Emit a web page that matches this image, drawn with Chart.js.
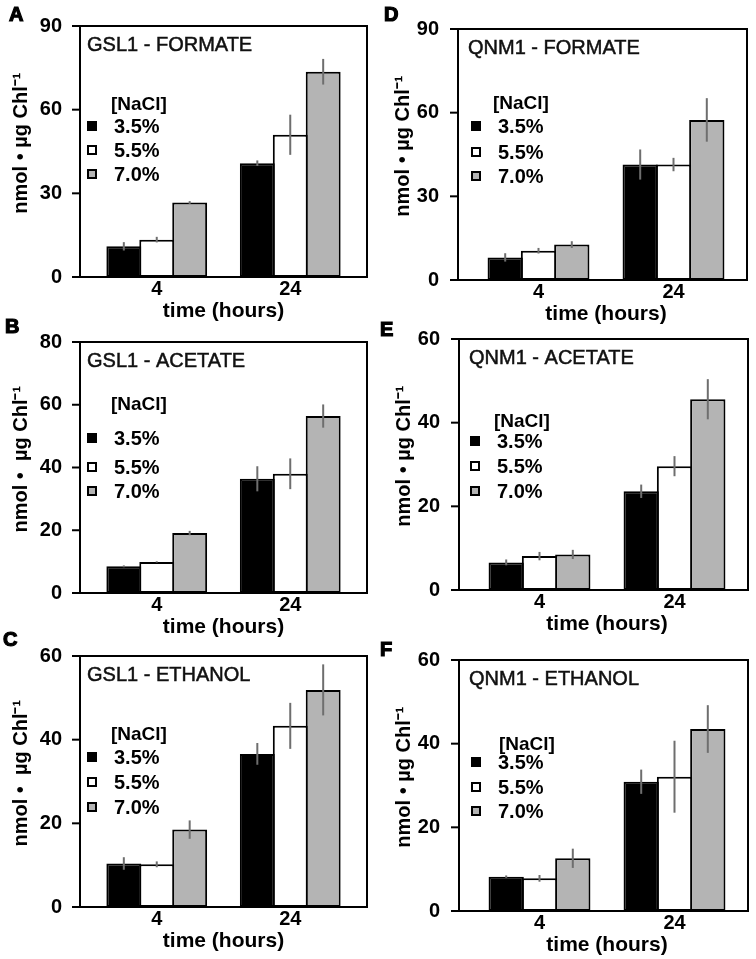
<!DOCTYPE html>
<html>
<head>
<meta charset="utf-8">
<title>Formate, acetate and ethanol production under NaCl</title>
<script src="https://cdn.jsdelivr.net/npm/chart.js@4.4.1/dist/chart.umd.min.js"></script>
<style>
  html, body { margin: 0; padding: 0; background: #fff; }
  #fig { position: relative; width: 756px; height: 959px; overflow: hidden; }
  #fig canvas { position: absolute; }
</style>
</head>
<body>
<div id="fig"></div>
<script>
const times = ['4', '24'];
const salts = ['3.5%', '5.5%', '7.0%'];
const saltColors = ['#000000', '#ffffff', '#b4b4b4'];

// one row per NaCl level, values at [4 h, 24 h]
const gslFormate    = [[11.0, 40.8], [13.4, 51.0], [26.7, 73.6]];
const gslFormateErr = [[1.5, 1.0], [1.0, 7.2], [0.5, 4.6]];
const gslAcetate    = [[8.5, 36.4], [9.9, 38.0], [19.1, 56.4]];
const gslAcetateErr = [[0.3, 4.0], [0.2, 4.9], [0.7, 3.7]];
const gslEthanol    = [[10.4, 36.6], [10.2, 43.3], [18.5, 51.9]];
const gslEthanolErr = [[1.5, 2.6], [0.7, 5.5], [2.2, 6.1]];
const qnmFormate    = [[8.1, 41.4], [10.5, 41.4], [12.7, 57.4]];
const qnmFormateErr = [[1.5, 5.4], [1.0, 2.4], [1.2, 7.8]];
const qnmAcetate    = [[6.6, 23.6], [8.1, 29.6], [8.5, 45.6]];
const qnmAcetateErr = [[0.7, 1.6], [1.0, 2.4], [1.1, 4.8]];
const qnmEthanol    = [[8.2, 30.9], [7.8, 32.1], [12.6, 43.5]];
const qnmEthanolErr = [[0.3, 2.9], [0.8, 8.6], [2.3, 5.7]];

const ticks90 = [0, 30, 60, 90];
const ticks80 = [0, 20, 40, 60, 80];
const ticks60 = [0, 20, 40, 60];

const FONT = '"Liberation Sans", Arial, Helvetica, sans-serif';
const H = 325;

// geometry of the two figure columns (canvas-local px)
const columns = [
  { width: 378, frameL: 80, frameR: 367, areaL: 90, areaR: 357, yTitlePad: 9, tickGap: 24, titleX: 7 },
  { width: 380, frameL: 82, frameR: 371, areaL: 95, areaR: 365, yTitlePad: 15, tickGap: 28, titleX: 10 }
];

const panels = [
  { letter: 'A', title: 'GSL1 - FORMATE', values: gslFormate, errors: gslFormateErr, yTicks: ticks90,
    yTitle: '   nmol • µg Chl⁻¹', col: 0, left: 0, top: 0, letterAt: [9, 21],
    legend: { boxX: 7, textX: 34, headX: 31, headY: 79, rows: [100, 124, 148] } },
  { letter: 'B', title: 'GSL1 - ACETATE', values: gslAcetate, errors: gslAcetateErr, yTicks: ticks80,
    yTitle: '   nmol •  µg Chl⁻¹', col: 0, left: 0, top: 316, letterAt: [5, 17],
    legend: { boxX: 7, textX: 34, headX: 31, headY: 63, rows: [96, 125, 149] } },
  { letter: 'C', title: 'GSL1 - ETHANOL', values: gslEthanol, errors: gslEthanolErr, yTicks: ticks60,
    yTitle: '   nmol •  µg Chl⁻¹', col: 0, left: 0, top: 630, letterAt: [3, 16],
    legend: { boxX: 7, textX: 34, headX: 31, headY: 79, rows: [101, 126, 151] } },
  { letter: 'D', title: 'QNM1 - FORMATE', values: qnmFormate, errors: qnmFormateErr, yTicks: ticks90,
    yTitle: '   nmol • µg Chl⁻¹', col: 1, left: 376, top: 3, letterAt: [8, 18],
    legend: { boxX: 13, textX: 40, headX: 35, headY: 75, rows: [97, 123, 147] } },
  { letter: 'E', title: 'QNM1 - ACETATE', values: qnmAcetate, errors: qnmAcetateErr, yTicks: ticks60,
    yTitle: '   nmol • µg Chl⁻¹', col: 1, left: 377, top: 313, letterAt: [3, 23],
    legend: { boxX: 11, textX: 38, headX: 35, headY: 83, rows: [102, 127, 152] } },
  { letter: 'F', title: 'QNM1 - ETHANOL', values: qnmEthanol, errors: qnmEthanolErr, yTicks: ticks60,
    yTitle: '   nmol • µg Chl⁻¹', col: 1, left: 377, top: 634, letterAt: [3, 22],
    legend: { boxX: 12, textX: 39, headX: 40, headY: 85, rows: [102, 127, 151] } }
];

// error bars, frame, in-plot title, legend and panel letter
function panelDecor(p, g) {
  return {
    id: 'panelDecor',
    afterDatasetsDraw(chart) {
      const ctx = chart.ctx, y = chart.scales.y;
      ctx.save();
      ctx.strokeStyle = '#6e6e6e';
      ctx.lineWidth = 2;
      chart.data.datasets.forEach((ds, i) => {
        chart.getDatasetMeta(i).data.forEach((bar, j) => {
          const e = p.errors[i][j];
          ctx.beginPath();
          ctx.moveTo(bar.x, y.getPixelForValue(ds.data[j] - e));
          ctx.lineTo(bar.x, y.getPixelForValue(ds.data[j] + e));
          ctx.stroke();
        });
      });
      ctx.restore();
    },
    afterDraw(chart) {
      const ctx = chart.ctx, a = chart.chartArea, y = chart.scales.y;
      const fl = g.frameL, fr = g.frameR;
      ctx.save();
      ctx.strokeStyle = '#000';
      ctx.lineWidth = 2;
      ctx.strokeRect(fl, a.top, fr - fl, a.bottom - a.top);
      y.ticks.forEach(t => {
        const py = y.getPixelForValue(t.value);
        ctx.beginPath();
        ctx.moveTo(fl - 8, py);
        ctx.lineTo(fl, py);
        ctx.stroke();
      });

      ctx.textAlign = 'left';
      ctx.textBaseline = 'middle';
      ctx.fillStyle = '#111';
      ctx.strokeStyle = '#111';
      ctx.lineWidth = 0.5;
      ctx.font = '20px ' + FONT;
      ctx.fillText(p.title, fl + g.titleX, a.top + 19);
      ctx.strokeText(p.title, fl + g.titleX, a.top + 19);

      const L = p.legend;
      ctx.strokeStyle = '#000';
      ctx.lineWidth = 2;
      ctx.fillStyle = '#000';
      ctx.font = 'bold 19px ' + FONT;
      ctx.fillText('[NaCl]', fl + L.headX, a.top + L.headY);
      ctx.font = 'bold 20px ' + FONT;
      chart.data.datasets.forEach((ds, i) => {
        const cy = a.top + L.rows[i];
        ctx.fillStyle = ds.backgroundColor;
        ctx.fillRect(fl + L.boxX + 1, cy - 4, 8, 8);
        ctx.strokeRect(fl + L.boxX + 1, cy - 4, 8, 8);
        ctx.fillStyle = '#000';
        ctx.fillText(ds.label, fl + L.textX, cy + 1);
      });

      ctx.textBaseline = 'alphabetic';
      ctx.font = 'bold 20px ' + FONT;
      ctx.lineWidth = 1.2;
      ctx.fillText(p.letter, p.letterAt[0], p.letterAt[1]);
      ctx.strokeText(p.letter, p.letterAt[0], p.letterAt[1]);
      ctx.restore();
    }
  };
}

const fig = document.getElementById('fig');

panels.forEach(p => {
  const g = columns[p.col];
  const canvas = document.createElement('canvas');
  canvas.width = g.width;
  canvas.height = H;
  canvas.style.left = p.left + 'px';
  canvas.style.top = p.top + 'px';
  fig.appendChild(canvas);

  new Chart(canvas, {
    type: 'bar',
    data: {
      labels: times,
      datasets: salts.map((s, i) => ({
        label: s,
        data: p.values[i],
        backgroundColor: saltColors[i],
        borderColor: '#000',
        borderWidth: 2,
        borderSkipped: false,
        categoryPercentage: 0.74,
        barPercentage: 1.06
      }))
    },
    options: {
      responsive: false,
      animation: false,
      devicePixelRatio: 1,
      layout: { padding: { top: 26, right: g.width - g.areaR, left: 0, bottom: 0 } },
      plugins: { legend: { display: false }, tooltip: { enabled: false } },
      scales: {
        x: {
          grid: { display: false, drawTicks: false },
          border: { display: false },
          ticks: { color: '#000', padding: 0, maxRotation: 0, font: { family: FONT, size: 20, weight: 'bold' } },
          title: { display: true, text: 'time (hours)', color: '#000', padding: { top: 0, bottom: 1 },
                   font: { family: FONT, size: 21, weight: 'bold' } },
          afterFit: s => { s.height = H - 277; }
        },
        y: {
          min: p.yTicks[0],
          max: p.yTicks[p.yTicks.length - 1],
          afterBuildTicks: s => { s.ticks = p.yTicks.map(v => ({ value: v })); },
          grid: { display: false, drawTicks: true, tickLength: g.tickGap, color: 'rgba(0,0,0,0)' },
          border: { display: false },
          ticks: { color: '#000', padding: 4, font: { family: FONT, size: 20, weight: 'bold' } },
          title: { display: true, text: p.yTitle, color: '#000', padding: { top: g.yTitlePad, bottom: 0 },
                   font: { family: FONT, size: 20, weight: 'bold' } },
          afterFit: s => { s.width = g.areaL; }
        }
      }
    },
    plugins: [panelDecor(p, g)]
  });
});
</script>
</body>
</html>
